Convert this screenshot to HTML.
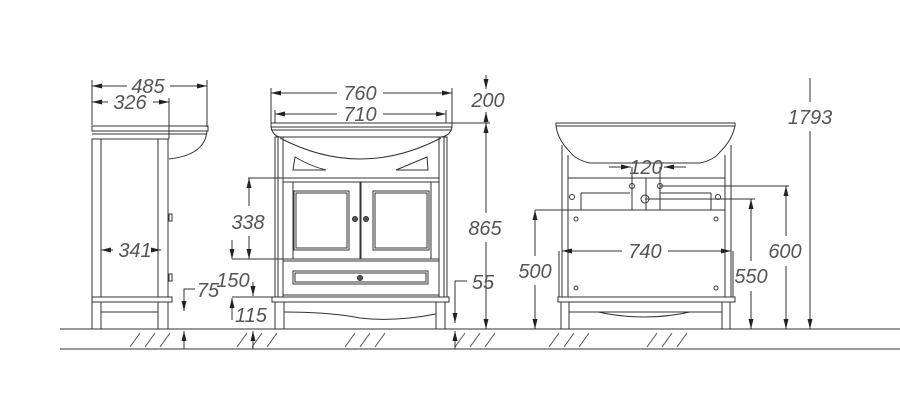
<!DOCTYPE html>
<html><head><meta charset="utf-8"><style>
html,body{margin:0;padding:0;background:#fff;}
svg{display:block}
text{font-family:"Liberation Sans",sans-serif;font-style:italic;font-size:20px;fill:#555;text-anchor:middle;}
</style></head><body>
<svg width="900" height="419" viewBox="0 0 900 419" xmlns="http://www.w3.org/2000/svg">
<defs>
<marker id="a" viewBox="0 0 10 6" refX="10" refY="3" markerWidth="10" markerHeight="6" orient="auto-start-reverse" markerUnits="userSpaceOnUse"><path d="M0,0.5 L10,3 L0,5.5z" fill="#222"/></marker>
</defs>
<g stroke="#333" stroke-width="1" fill="none">
<line x1="60" y1="329" x2="900" y2="329"/>
<line x1="60" y1="349" x2="900" y2="349"/>
<g stroke="#555">
<path d="M130,347 l10,-14 M145,347 l10,-14 M160,347 l10,-14 M237,347 l10,-14 M252,347 l10,-14 M267,347 l10,-14 M345,347 l10,-14 M360,347 l10,-14 M375,347 l10,-14 M455,347 l10,-14 M470,347 l10,-14 M485,347 l10,-14 M549,347 l10,-14 M564,347 l10,-14 M579,347 l10,-14 M647,347 l10,-14 M662,347 l10,-14 M677,347 l10,-14"/>
</g>

<!-- SIDE VIEW -->
<line x1="92" y1="80" x2="92" y2="125"/>
<line x1="207" y1="80" x2="207" y2="127"/>
<line x1="169" y1="98" x2="169" y2="139"/>
<line x1="92" y1="86" x2="127" y2="86" marker-start="url(#a)"/>
<line x1="170" y1="86" x2="207" y2="86" marker-end="url(#a)"/>
<line x1="92" y1="102" x2="108" y2="102" marker-start="url(#a)"/>
<line x1="153" y1="102" x2="169" y2="102" marker-end="url(#a)"/>
<rect x="92" y="126" width="116" height="5"/>
<line x1="92" y1="134" x2="207" y2="134"/>
<line x1="92" y1="139" x2="169" y2="139"/>
<path d="M207,131 Q205,155 169,159"/>
<rect x="92" y="139" width="9" height="158"/>
<rect x="158" y="139" width="10" height="158"/>
<rect x="169" y="214" width="3" height="7"/>
<rect x="169" y="274" width="3" height="7"/>
<rect x="92" y="297" width="80" height="5"/>
<rect x="92" y="302" width="9" height="27"/>
<rect x="158" y="302" width="10" height="27"/>
<line x1="101" y1="312" x2="158" y2="312"/>
<line x1="101" y1="250" x2="113" y2="250" marker-start="url(#a)"/>
<line x1="157" y1="250" x2="161" y2="250" marker-end="url(#a)"/>
<path d="M195,289 H184 V311" marker-end="url(#a)"/>
<line x1="184" y1="349" x2="184" y2="331" marker-end="url(#a)"/>

<!-- FRONT VIEW -->
<line x1="271" y1="88" x2="271" y2="123"/>
<line x1="452" y1="88" x2="452" y2="123"/>
<line x1="275" y1="110" x2="275" y2="123"/>
<line x1="446" y1="110" x2="446" y2="123"/>
<line x1="271" y1="93" x2="337" y2="93" marker-start="url(#a)"/>
<line x1="383" y1="93" x2="452" y2="93" marker-end="url(#a)"/>
<line x1="275" y1="114" x2="337" y2="114" marker-start="url(#a)"/>
<line x1="383" y1="114" x2="446" y2="114" marker-end="url(#a)"/>
<rect x="271" y="123" width="181" height="4"/>
<line x1="271" y1="130" x2="452" y2="130"/>
<path d="M271,127 Q273,136 280,137 H441 Q450,136 452,127"/>
<path d="M280,138 Q360,180 441,138"/>
<rect x="275" y="137" width="8" height="160"/>
<rect x="439" y="137" width="8" height="160"/>
<line x1="278" y1="137" x2="278" y2="297"/>
<line x1="444" y1="137" x2="444" y2="297"/>
<path d="M293,170 L295,157 Q310,166 326,170z"/>
<path d="M396,170 L427,157 L428,170z"/>
<rect x="283" y="178" width="156" height="4"/>
<rect x="283" y="182" width="77" height="77"/>
<rect x="361" y="182" width="78" height="77"/>
<line x1="293" y1="182" x2="293" y2="259"/>
<line x1="431" y1="182" x2="431" y2="259"/>
<rect x="294" y="191" width="55" height="59"/>
<rect x="296" y="193" width="51" height="55"/>
<rect x="373" y="191" width="56" height="59"/>
<rect x="375" y="193" width="52" height="55"/>
<circle cx="355" cy="219" r="2.5" fill="#555"/>
<circle cx="366" cy="219" r="2.5" fill="#555"/>
<rect x="283" y="261" width="156" height="34"/>
<rect x="293" y="271" width="135" height="13"/>
<rect x="295" y="273" width="131" height="9"/>
<circle cx="360" cy="278" r="2.5" fill="#555"/>
<rect x="272" y="297" width="177" height="5"/>
<rect x="275" y="302" width="9" height="27"/>
<rect x="436" y="302" width="9" height="27"/>
<path d="M284,312 Q330,312 360,318 Q395,322 436,314"/>
<line x1="248" y1="178" x2="283" y2="178"/>
<line x1="232" y1="259" x2="283" y2="259"/>
<line x1="249" y1="206" x2="249" y2="178" marker-end="url(#a)"/>
<line x1="249" y1="236" x2="249" y2="259" marker-end="url(#a)"/>
<line x1="232" y1="240" x2="232" y2="259" marker-end="url(#a)"/>
<line x1="253" y1="282" x2="253" y2="296" marker-end="url(#a)"/>
<line x1="232" y1="297" x2="272" y2="297"/>
<line x1="232" y1="320" x2="232" y2="298" marker-end="url(#a)"/>
<line x1="253" y1="349" x2="253" y2="331" marker-end="url(#a)"/>
<path d="M467,281 H455 V323" marker-end="url(#a)"/>
<line x1="455" y1="349" x2="455" y2="331" marker-end="url(#a)"/>
<line x1="452" y1="123" x2="490" y2="123"/>
<line x1="486" y1="75" x2="486" y2="89" marker-end="url(#a)"/>
<line x1="486" y1="112" x2="486" y2="123" marker-start="url(#a)"/>
<line x1="486" y1="123" x2="486" y2="213" marker-start="url(#a)"/>
<line x1="486" y1="242" x2="486" y2="329" marker-end="url(#a)"/>

<!-- RIGHT VIEW -->
<rect x="556" y="123" width="179" height="3"/>
<path d="M556,126 Q558,140 570,152 Q576,160 590,163 H700 Q714,160 720,152 Q732,140 735,126"/>
<line x1="562" y1="145" x2="562" y2="297"/>
<line x1="568" y1="155" x2="568" y2="297"/>
<line x1="725" y1="155" x2="725" y2="297"/>
<line x1="731" y1="145" x2="731" y2="297"/>
<line x1="568" y1="178" x2="725" y2="178"/>
<line x1="568" y1="210" x2="725" y2="210"/>
<line x1="581" y1="193" x2="630" y2="193"/>
<line x1="581" y1="193" x2="581" y2="210"/>
<line x1="660" y1="193" x2="711" y2="193"/>
<line x1="711" y1="193" x2="711" y2="210"/>
<line x1="632" y1="178" x2="632" y2="210"/>
<line x1="646" y1="178" x2="646" y2="210"/>
<line x1="660" y1="186" x2="660" y2="210"/>
<circle cx="632" cy="186" r="2.5"/>
<circle cx="660" cy="186" r="2.5"/>
<circle cx="645" cy="199" r="4"/>
<circle cx="572" cy="197" r="2.5"/>
<circle cx="718" cy="197" r="2.5"/>
<circle cx="576" cy="219" r="2"/><circle cx="716" cy="219" r="2"/>
<circle cx="576" cy="288" r="2"/><circle cx="716" cy="288" r="2"/>
<line x1="609" y1="167" x2="631" y2="167" marker-end="url(#a)"/>
<line x1="686" y1="167" x2="664" y2="167" marker-end="url(#a)"/>
<line x1="632" y1="167" x2="632" y2="186"/>
<line x1="660" y1="167" x2="660" y2="186"/>
<line x1="660" y1="186" x2="789" y2="186"/>
<line x1="645" y1="199" x2="755" y2="199"/>
<line x1="535" y1="210" x2="568" y2="210"/>
<line x1="535" y1="210" x2="535" y2="256" marker-start="url(#a)"/>
<line x1="535" y1="285" x2="535" y2="329" marker-end="url(#a)"/>
<line x1="751" y1="199" x2="751" y2="261" marker-start="url(#a)"/>
<line x1="751" y1="291" x2="751" y2="329" marker-end="url(#a)"/>
<line x1="786" y1="186" x2="786" y2="236" marker-start="url(#a)"/>
<line x1="786" y1="266" x2="786" y2="329" marker-end="url(#a)"/>
<line x1="810" y1="78" x2="810" y2="102"/>
<line x1="810" y1="131" x2="810" y2="329" marker-end="url(#a)"/>
<line x1="562" y1="251" x2="622" y2="251" marker-start="url(#a)"/>
<line x1="668" y1="251" x2="731" y2="251" marker-end="url(#a)"/>
<line x1="559" y1="251" x2="559" y2="297"/>
<line x1="733" y1="251" x2="733" y2="297"/>
<rect x="558" y="297" width="177" height="5"/>
<rect x="561" y="302" width="8" height="27"/>
<rect x="722" y="302" width="8" height="27"/>
<line x1="569" y1="312" x2="722" y2="312"/>
<path d="M598,312 Q645,322 690,312"/>
</g>
<g>
<text x="148" y="93">485</text>
<text x="130" y="109">326</text>
<text x="135" y="257">341</text>
<text x="208" y="297">75</text>
<text x="360" y="100">760</text>
<text x="360" y="121">710</text>
<text x="248" y="229">338</text>
<text x="233" y="287">150</text>
<text x="251" y="322">115</text>
<text x="483" y="289">55</text>
<text x="488" y="107">200</text>
<text x="485" y="235">865</text>
<text x="646" y="174">120</text>
<text x="645" y="258">740</text>
<text x="535" y="278">500</text>
<text x="751" y="283">550</text>
<text x="785" y="258">600</text>
<text x="810" y="124">1793</text>
</g>
</svg>
</body></html>
